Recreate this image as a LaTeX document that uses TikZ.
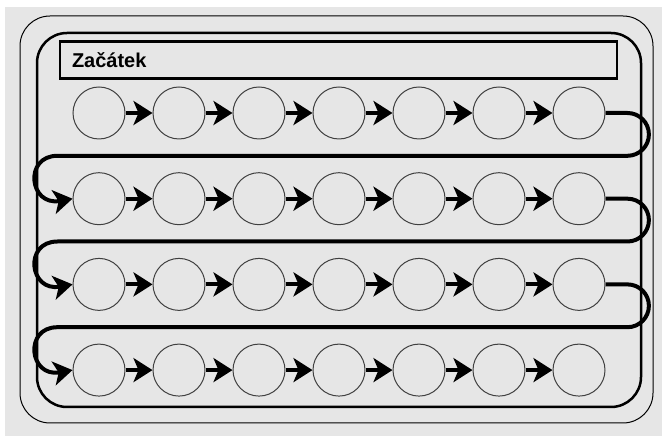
\documentclass[tikz,border=0pt]{standalone}
\usepackage{fontspec}
\newfontfamily\labelfont{Liberation Sans}
\usepackage{tikz}
\usetikzlibrary{%
  arrows.meta,
  positioning}
\definecolor{panelgray}{HTML}{E6E6E6}
\tikzset{
  %% Empty slots on the track
  slot/.style={
    circle, draw=black!75, line width=1pt,
    minimum size=52pt, inner sep=0pt},
  %% Heading bar
  titlebar/.style={
    rectangle, draw=black, line width=2.5pt,
    text width=533pt, inner xsep=12pt, inner ysep=0pt,
    minimum height=37pt, align=left,
    font=\labelfont\bfseries\fontsize{20}{24}\selectfont},
  %% Frames
  outerframe/.style={draw=black, line width=1pt, rounded corners=30pt},
  innerframe/.style={draw=black, line width=2.5pt, rounded corners=30pt},
  %% Arrows
  arrow/.style={-{Stealth[length=19pt,width=24pt,inset=5pt]}, line width=4pt, black},
  track/.style={-{Stealth[length=19pt,width=24pt,inset=5pt]}, line width=4pt, black, line join=round},
}
\begin{document}
\begin{tikzpicture}[x=1pt, y=1pt]
  \useasboundingbox (0,0) rectangle (662,436);
  \fill[panelgray] (5,0) rectangle (662,429);

  %% frames
  \draw[outerframe] (20,13) rectangle (653,420);
  \draw[innerframe] (37,29) rectangle (641,403);

  \node[titlebar] (title) at (338.5,376) {Začátek};

  %% first slot of every row
  \node[slot] (c-1-1) at (99,323) {};
  \foreach \r [remember=\r as \p (initially 1)] in {2,3,4}
    \node[slot, below=32.7pt of c-\p-1] (c-\r-1) {};

  %% rest of the rows, with arrows
  \foreach \r in {1,...,4} {
    \foreach \k [remember=\k as \p (initially 1)] in {2,...,7} {
      \node[slot, right=27pt of c-\r-\p] (c-\r-\k) {};
      \draw[arrow] (c-\r-\p.east) -- (c-\r-\k.west);
    }
  }

  %% turns between rows
  \foreach \r/\n in {1/2, 2/3, 3/4}
    \draw[track] (c-\r-7.east) -- ++(22,0)
      arc[start angle=90, end angle=-90, radius=21.4pt]
      -- ++(-570,0)
      to[out=180, in=190, out distance=34pt, in distance=44pt] (c-\n-1.west);
\end{tikzpicture}
\end{document}
